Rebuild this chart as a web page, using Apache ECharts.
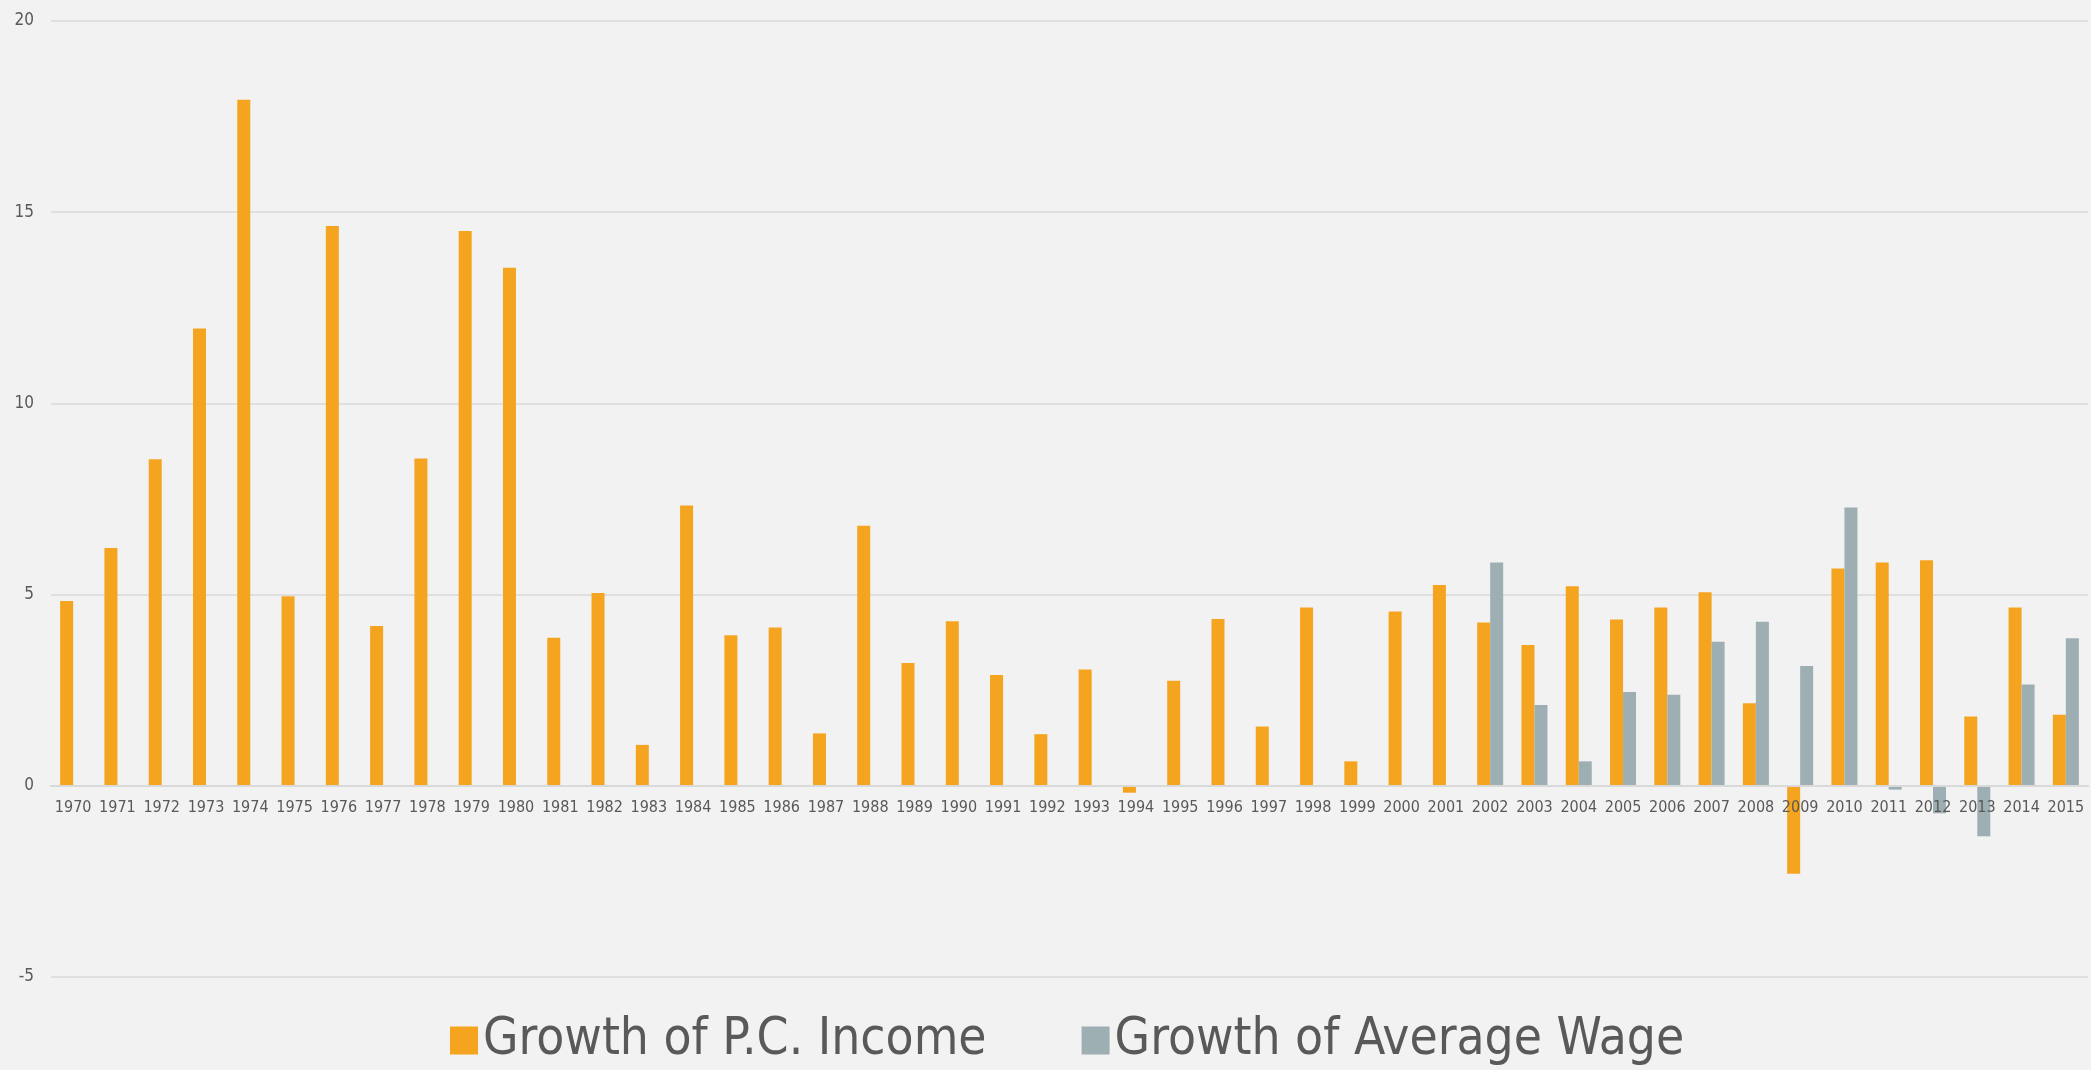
<!DOCTYPE html>
<html>
<head>
<meta charset="utf-8">
<title>Growth of P.C. Income vs Average Wage</title>
<script src="https://cdn.jsdelivr.net/npm/echarts@6.0.0/dist/echarts.min.js"></script>
<style>
  html, body { margin: 0; padding: 0; background: #F2F2F2; }
  #chartmain { width: 2091px; height: 1070px; }
</style>
</head>
<body>
<div id="chartmain"></div>
<script>
// years on the x axis
var years = ['1970','1971','1972','1973','1974','1975','1976','1977','1978','1979',
  '1980','1981','1982','1983','1984','1985','1986','1987','1988','1989',
  '1990','1991','1992','1993','1994','1995','1996','1997','1998','1999',
  '2000','2001','2002','2003','2004','2005','2006','2007','2008','2009',
  '2010','2011','2012','2013','2014','2015'];

// growth of per capita income, %
var incomeGrowth = [4.83, 6.22, 8.54, 11.96, 17.94, 4.96, 14.64, 4.18, 8.56, 14.51,
  13.55, 3.87, 5.04, 1.07, 7.33, 3.94, 4.14, 1.37, 6.80, 3.21,
  4.30, 2.90, 1.35, 3.04, -0.18, 2.75, 4.36, 1.55, 4.66, 0.64,
  4.56, 5.25, 4.27, 3.68, 5.22, 4.35, 4.66, 5.06, 2.16, -2.30,
  5.68, 5.84, 5.90, 1.81, 4.66, 1.86];

// growth of average wage, % (no data before 2002)
var wageGrowth = [null, null, null, null, null, null, null, null, null, null,
  null, null, null, null, null, null, null, null, null, null,
  null, null, null, null, null, null, null, null, null, null,
  null, null, 5.84, 2.11, 0.64, 2.45, 2.38, 3.77, 4.29, 3.13,
  7.28, -0.10, -0.72, -1.32, 2.65, 3.86];

var yTicks = { min: -5, max: 20, step: 5 };

var fontFam = '"DejaVu Sans Condensed", "DejaVu Sans", sans-serif';

var gridTop = 21, gridBottom = 93, chartH = 1070;

var chartmain = echarts.init(document.getElementById('chartmain'));

// move the category axis (labels too) up to the zero line
var plotH = chartH - gridTop - gridBottom;
var zeroShift = plotH * (0 - yTicks.min) / (yTicks.max - yTicks.min);

chartmain.setOption({
  backgroundColor: '#F2F2F2',
  animation: false,
  grid: {
    left: 51,
    right: 3,
    top: gridTop,
    bottom: gridBottom
  },
  legend: {
    data: ['Growth of P.C. Income', 'Growth of Average Wage'],
    left: 445,
    top: 1010,
    itemWidth: 28,
    itemHeight: 28,
    itemGap: 95,
    icon: 'rect',
    textStyle: {
      fontFamily: fontFam,
      fontSize: 51,
      color: '#595959'
    }
  },
  xAxis: {
    type: 'category',
    data: years,
    offset: -zeroShift,
    z: 3,
    axisTick: { show: false },
    axisLine: {
      onZero: false,
      lineStyle: { color: '#D9D9D9', width: 2 }
    },
    axisLabel: {
      interval: 0,
      margin: 14,
      fontFamily: fontFam,
      fontSize: 16,
      color: '#595959'
    }
  },
  yAxis: {
    type: 'value',
    min: yTicks.min,
    max: yTicks.max,
    interval: yTicks.step,
    axisLine: { show: false },
    axisTick: { show: false },
    axisLabel: {
      margin: 17,
      fontFamily: fontFam,
      fontSize: 17,
      color: '#595959'
    },
    splitLine: {
      lineStyle: { color: '#D9D9D9', width: 1.5 }
    }
  },
  series: [
    {
      name: 'Growth of P.C. Income',
      type: 'bar',
      barWidth: 13,
      barGap: '0%',
      itemStyle: { color: '#F5A41F' },
      data: incomeGrowth
    },
    {
      name: 'Growth of Average Wage',
      type: 'bar',
      barWidth: 13,
      itemStyle: { color: '#9EAFB4' },
      data: wageGrowth
    }
  ]
});
</script>
</body>
</html>
